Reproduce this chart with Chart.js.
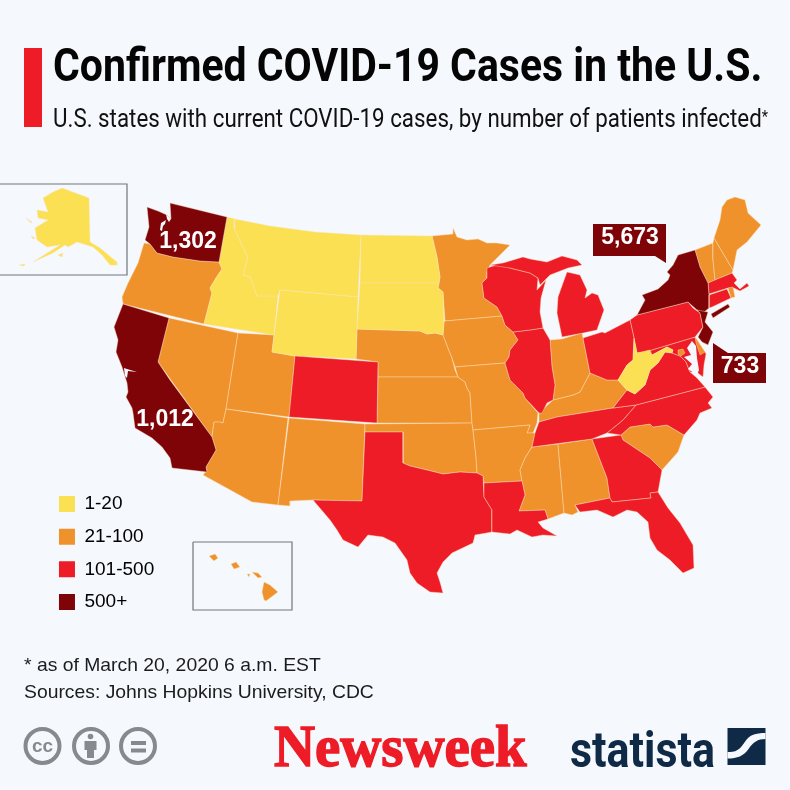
<!DOCTYPE html>
<html>
<head>
<meta charset="utf-8">
<script src="https://cdn.jsdelivr.net/npm/chart.js@4"></script>
<style>
html,body{margin:0;padding:0;background:#f5f8fc;width:790px;height:790px;overflow:hidden}
#c{position:absolute;left:0;top:0}
.t{position:absolute;white-space:nowrap;line-height:1;transform-origin:0 0}
#bar{position:absolute;left:24px;top:48px;width:18px;height:79px;background:#ed1c26}
#title{left:53px;top:42px;font:700 46px/1 Roboto,sans-serif;color:#050505}
#sub{left:53px;top:105px;font:400 26px/1 Roboto,sans-serif;color:#111}
#sub span{font-size:17px;position:relative;top:-5px}
.foot{font:400 18.5px/1 "Liberation Sans",sans-serif;color:#1c1c1c;left:24px}
#nw{left:274px;top:716px;font:700 60px/1 "Liberation Serif",serif;color:#ed1c26;-webkit-text-stroke:1.5px #ed1c26}
#st{left:570px;top:725px;font:700 50px/1 Roboto,sans-serif;color:#0f2a47}
svg{position:absolute}
</style>
</head>
<body>
<canvas id="c" width="790" height="790"></canvas>
<div id="bar"></div>
<div class="t" id="title" data-w="709">Confirmed COVID-19 Cases in the U.S.</div>
<div class="t" id="sub" data-w="715">U.S. states with current COVID-19 cases, by number of patients infected<span>*</span></div>
<div class="t foot" style="top:656px" data-w="297">* as of March 20, 2020 6 a.m. EST</div>
<div class="t foot" style="top:683px" data-w="350">Sources: Johns Hopkins University, CDC</div>
<svg style="left:20px;top:725px" width="140" height="44" viewBox="0 0 140 44" fill="none" stroke="#858a8c" stroke-width="4">
  <circle cx="22.5" cy="21" r="17"/><circle cx="71" cy="21" r="17"/><circle cx="118" cy="21" r="17"/>
  <text x="22.5" y="27" text-anchor="middle" font-family="Liberation Sans" font-weight="700" font-size="19" fill="#858a8c" stroke="none">cc</text>
  <circle cx="70.5" cy="11.5" r="2.8" fill="#858a8c" stroke="none"/>
  <path d="M64.5 16H76.5V25H74V33H67V25H64.5Z" fill="#858a8c" stroke="none"/>
  <rect x="111" y="16" width="15" height="4" fill="#858a8c" stroke="none"/><rect x="111" y="23.5" width="15" height="4" fill="#858a8c" stroke="none"/>
</svg>
<div class="t" id="nw" data-w="253">Newsweek</div>
<div class="t" id="st" data-w="145">statista</div>
<svg style="left:727px;top:728px" width="39" height="37" viewBox="0 0 38 37">
  <rect width="38" height="37" fill="#0f2a47"/>
  <path d="M0 24C10 25 14 19 18 13C22 7 28 5 38 5V11C30 11 26 14 21 21C16 28 10 30.5 0 30.5Z" fill="#f5f8fc"/>
</svg>
<script>
// Map geometry, in map units
const WA=[[170,203],[227,217],[219,262],[200,261],[173,257],[157,253],[150,244],[145,240],[149,227],[147,207],[158,211],[167,215],[171,219]];
const OR=[[144,243],[150,244],[157,253],[173,257],[200,261],[219,262],[222,269],[216,278],[210,288],[212,293],[204,324],[123,304],[122,297],[128,283],[138,263]];
const CA=[[123,304],[169,318],[158,362],[170,380],[212,437],[216,450],[206,467],[207,472],[172,468],[170,458],[162,447],[152,438],[135,428],[133,413],[132,408],[126,397],[128,392],[127,383],[122,367],[116,352],[118,340],[114,327]];
const NV=[[169,318],[238,333],[226,409],[223,423],[220,422],[214,422],[212,437],[158,362]];
const ID=[[227,217],[235,219],[234,228],[248,258],[243,275],[250,277],[257,296],[278,296],[274,335],[204,324],[212,293],[210,288],[216,278],[222,269],[219,262]];
const MT=[[235,219],[270,226],[315,232],[361,235],[358,297],[280,290],[278,296],[257,296],[250,277],[243,275],[248,258],[234,228]];
const WY=[[280,290],[358,297],[356,359],[295,356],[272,352]];
const UT=[[238,333],[274,335],[272,352],[295,356],[289,417],[226,409]];
const AZ=[[226,409],[288,418],[278,505],[252,502],[203,475],[207,470],[206,467],[216,450],[212,437],[214,422],[220,422],[223,423]];
const CO=[[295,356],[378,362],[377,423],[289,417]];
const NM=[[289,418],[365,424],[362,501],[313,500],[290,501],[290,506],[278,505]];
const ND=[[361,235],[432,236],[437,257],[440,277],[439,283],[360,283]];
const SD=[[360,283],[439,283],[438,288],[443,292],[444,322],[443,335],[435,333],[427,334],[420,331],[357,329]];
const NE=[[357,329],[420,331],[427,334],[435,333],[443,335],[448,348],[452,358],[455,370],[458,377],[378,377],[378,362],[356,359]];
const KS=[[378,377],[458,377],[465,382],[467,388],[470,393],[472,423],[377,423]];
const OK=[[365,424],[472,423],[473,430],[476,457],[477,473],[460,472],[443,474],[427,470],[410,466],[403,463],[403,432],[365,432]];
const TX=[[365,432],[403,432],[403,463],[410,466],[427,470],[443,474],[460,472],[477,473],[483,476],[484,497],[492,510],[492,532],[475,535],[473,543],[452,553],[443,562],[437,573],[440,582],[443,593],[430,592],[417,583],[410,573],[407,560],[395,543],[383,537],[368,535],[358,547],[343,540],[337,530],[330,520],[313,500],[362,501]];
const MN=[[432,236],[453,234],[453,228],[457,237],[467,240],[478,239],[487,243],[497,243],[510,245],[490,265],[487,272],[487,278],[482,283],[484,298],[497,307],[502,316],[445,321],[443,292],[438,288],[439,283],[440,277],[437,257]];
const IA=[[445,321],[502,316],[505,325],[513,332],[518,340],[510,350],[509,357],[505,363],[455,367],[452,358],[448,348],[443,335],[444,322]];
const MO=[[455,367],[505,363],[507,370],[510,380],[520,390],[523,393],[525,398],[538,413],[537,423],[533,433],[527,433],[530,425],[473,430],[472,423],[470,393],[467,388],[465,382],[458,377]];
const AR=[[473,430],[530,425],[527,433],[535,433],[532,447],[525,458],[520,470],[522,481],[484,483],[483,476],[477,473],[476,457]];
const LA=[[484,483],[522,481],[525,495],[519,511],[545,510],[548,519],[538,522],[543,528],[557,536],[543,535],[532,537],[517,530],[510,534],[492,532],[492,510],[484,497]];
const MS=[[532,447],[558,444],[564,513],[548,519],[545,510],[519,511],[525,495],[522,481],[520,470],[525,458]];
const AL=[[558,444],[592,439],[607,478],[610,498],[575,505],[578,512],[572,515],[564,513]];
const GA=[[592,439],[621,435],[623,440],[650,458],[662,470],[658,492],[650,493],[651,498],[612,502],[610,498],[607,478]];
const FL=[[575,505],[610,498],[612,502],[651,498],[650,493],[658,492],[668,508],[680,523],[693,545],[694,568],[683,573],[670,560],[657,550],[650,538],[648,522],[637,512],[627,510],[613,517],[597,510],[580,512]];
const SC=[[621,435],[630,427],[650,424],[653,427],[667,425],[684,435],[678,452],[662,470],[650,458],[623,440]];
const NC=[[636,405],[623,420],[607,433],[621,435],[630,427],[650,424],[653,427],[667,425],[684,435],[697,420],[700,413],[712,408],[708,403],[713,397],[705,387]];
const TN=[[539,422],[557,417],[613,408],[636,405],[623,420],[607,433],[592,439],[532,447],[535,433]];
const KY=[[539,413],[553,400],[573,395],[580,392],[590,373],[607,380],[618,380],[627,390],[613,408],[557,417],[539,422]];
const VA=[[613,408],[627,390],[635,394],[645,385],[650,370],[658,363],[665,352],[672,353],[680,356],[686,362],[690,372],[697,378],[705,387],[636,405]];
const WV=[[634,338],[637,353],[650,350],[652,355],[667,347],[673,350],[672,353],[665,352],[658,363],[650,370],[645,385],[635,394],[627,390],[618,380],[627,365],[633,360]];
const MD=[[645,352],[695,337],[697,340],[705,352],[706,354],[704,365],[703,377],[699,374],[697,372],[690,372],[686,362],[680,356],[672,353],[673,350],[667,347],[652,355]];
const DE=[[695,337],[697,340],[705,352],[700,355],[696,343]];
const PA=[[630,320],[637,315],[688,302],[693,308],[700,313],[703,327],[695,337],[645,352],[637,353],[634,338]];
const OH=[[583,338],[602,332],[605,333],[630,320],[634,338],[633,360],[627,365],[618,380],[607,380],[590,373]];
const IN=[[550,340],[562,339],[582,333],[590,373],[580,392],[573,395],[553,400],[555,385],[552,367]];
const IL=[[530,330],[543,328],[550,340],[552,367],[555,385],[553,400],[547,403],[542,413],[539,413],[525,398],[523,393],[520,390],[510,380],[507,370],[505,363],[509,357],[510,350],[518,340],[513,332]];
const WI=[[487,268],[503,263],[510,268],[530,273],[538,278],[537,290],[546,280],[541,298],[540,312],[543,328],[530,330],[513,332],[505,325],[502,316],[497,307],[484,298],[482,283],[487,278],[487,272]];
const MIU=[[490,265],[503,263],[523,257],[530,259],[547,262],[562,256],[577,260],[582,265],[568,268],[550,275],[540,285],[538,278],[530,273],[510,268]];
const MIL=[[567,272],[580,275],[587,290],[585,298],[592,293],[598,295],[604,310],[598,327],[597,330],[583,333],[562,337],[557,313],[558,297],[563,283]];
const NY=[[678,255],[695,250],[700,267],[708,283],[709,295],[709,308],[703,313],[697,310],[688,302],[637,315],[645,300],[642,295],[658,289],[668,280],[670,275],[667,272],[673,265]];
const LI=[[711,314],[728,304],[730,307],[713,318]];
const NJ=[[697,310],[708,312],[705,322],[713,332],[708,345],[702,342],[698,337],[703,327],[700,313]];
const VT=[[695,250],[713,243],[713,260],[715,280],[708,283],[700,267]];
const NH=[[714,238],[733,270],[732,273],[715,280],[713,260],[713,243]];
const ME=[[722,207],[727,200],[735,197],[745,200],[748,213],[761,225],[747,242],[737,250],[733,270],[714,238],[720,220]];
const MA=[[708,283],[715,280],[732,273],[737,280],[734,283],[740,289],[747,283],[749,286],[740,291],[734,288],[728,288],[709,294]];
const CT=[[709,295],[727,289],[731,298],[712,307],[709,308]];
const RI=[[728,288],[733,287],[735,297],[731,298]];
const AK=[[62,188],[89,198],[90,242],[100,248],[112,258],[117,262],[117,265],[110,265],[102,255],[93,247],[77,242],[68,247],[65,245],[53,253],[33,262],[52,250],[60,245],[47,247],[37,240],[35,228],[48,220],[38,218],[37,210],[48,212],[43,198],[53,192]];
const AK2=[[58,255],[63,253],[62,257]];
const AK3=[[26,218],[32,222],[31,223]];
const AK4=[[31,236],[35,238],[33,239]];
const AK5=[[19,265],[25,264],[24,266]];
const HI1=[[209,556],[215,554],[218,558],[214,561],[211,558]];
const HI2=[[231,564],[236,562],[240,567],[234,569]];
const HI3=[[247,574],[250,574],[249,577]];
const HI4=[[252,572],[258,573],[262,577],[258,578]];
const HI5=[[264,582],[270,585],[278,592],[266,601],[264,600],[262,592]];
const PUGET1=[[166,214],[171,219],[169,222],[167,219]];
const PUGET2=[[161,223],[166,220],[165,224],[163,226],[162,231],[160,230]];
const SFBAY=[[124,368],[127,369],[137,372],[128,371],[127,378],[125,376]];
const CHES=[[692,341],[687,348],[691,355],[684,357],[692,364],[688,369],[697,375],[699,370],[697,358],[696,346]];
const DC=[[678,350],[683,349],[685,353],[681,356],[678,354]];
const CALLOUT_NY=[[593,224],[666,224],[666,263],[655,256],[593,256]];
const CALLOUT_NJ=[[713,343],[728,353],[766,353],[766,383],[713,383]];
const FRAME_AK=[[0,184],[127,184],[127,275],[0,275]];
const FRAME_HI=[[193,542],[292,542],[292,610],[193,610],[193,542]];

// Legend categories and colours
const categories=['1-20','21-100','101-500','500+'];
const colors=['#fbe053','#f0922b','#ed1c26','#7f0408'];
const water='#f5f8fc';

// Which legend band every shape belongs to
const band0=[AK,AK2,AK3,AK4,AK5,ID,MT,WY,ND,SD];
const band1=[OR,NV,UT,AZ,NM,NE,KS,OK,MN,IA,MO,AR,MS,AL,SC,KY,IN,VT,NH,ME,HI1,HI2,HI3,HI4,HI5];
const band2=[CO,TX,LA,GA,FL,NC,TN,VA,MD,PA,OH,IL,WI,MIU,MIL,MA,CT];
const band3=[WA,CA,NY,LI,NJ];
const topYellow=[WV];
const topOrange=[DE,RI,DC];

// Case counts shown on the map
const labelTexts=['1,302','1,012','5,673','733'];
const labelX=[188,165,630,740];
const labelY=[242,420,238,367];

function pts(a,close){const p=a.map(q=>({x:q[0],y:q[1]}));if(close)p.push(p[0]);return p;}
function shape(a,color,line){return{data:pts(a,true),showLine:true,fill:'shape',backgroundColor:color,borderColor:line,borderWidth:line==='transparent'?0:0.6,pointRadius:0,pointHoverRadius:0,tension:0,clip:false};}
function frame(a){return{data:pts(a,false),showLine:true,fill:false,borderColor:'#6f7780',borderWidth:1.2,pointRadius:0,tension:0,clip:false};}

const line='rgba(252,226,190,.7)';
const layers=[];
band1.forEach(s=>layers.push(shape(s,colors[1],line)));
band0.forEach(s=>layers.push(shape(s,colors[0],line)));
band2.forEach(s=>layers.push(shape(s,colors[2],line)));
band3.forEach(s=>layers.push(shape(s,colors[3],line)));
topYellow.forEach(s=>layers.push(shape(s,colors[0],line)));
topOrange.forEach(s=>layers.push(shape(s,colors[1],line)));
[PUGET1,PUGET2,SFBAY,CHES].forEach(s=>layers.push(shape(s,water,'transparent')));
[CALLOUT_NY,CALLOUT_NJ].forEach(s=>layers.push(shape(s,colors[3],'transparent')));
layers.push(frame(FRAME_AK),frame(FRAME_HI));
layers.reverse(); // Chart.js paints the first dataset last

const placeLegend={id:'placeLegend',afterLayout(chart){const l=chart.legend;const w=l.right-l.left,h=l.bottom-l.top;l.left=45.3;l.top=480.8;l.right=l.left+w;l.bottom=l.top+h+40;}};
const caseLabels={id:'caseLabels',afterDatasetsDraw(chart){const c=chart.ctx,x=chart.scales.x,y=chart.scales.y;c.save();c.fillStyle='#fff';c.font='700 23px "Liberation Sans",sans-serif';c.textAlign='center';c.textBaseline='middle';labelTexts.forEach((t,i)=>c.fillText(t,x.getPixelForValue(labelX[i]),y.getPixelForValue(labelY[i])));c.restore();}};

new Chart(document.getElementById('c'),{
  type:'scatter',
  data:{datasets:layers},
  plugins:[placeLegend,caseLabels],
  options:{
    responsive:false,animation:false,devicePixelRatio:1,
    layout:{padding:0},
    events:[],
    scales:{x:{type:'linear',min:0,max:790,display:false},y:{type:'linear',min:0,max:790,reverse:true,display:false}},
    plugins:{
      tooltip:{enabled:false},title:{display:false},
      legend:{display:true,position:'chartArea',align:'start',
        labels:{boxWidth:16,boxHeight:16,padding:13.67,color:'#1a1a1a',font:{family:'"Liberation Sans"',size:19},
          generateLabels(){return categories.map((t,i)=>({text:t,fillStyle:colors[i],strokeStyle:colors[i],lineWidth:0,hidden:false,datasetIndex:null}));}}}
    }
  }
});

document.querySelectorAll('.t').forEach(function(e){const w=+e.dataset.w;e.style.transform='scaleX('+(w/e.offsetWidth)+')';});
</script>
</body>
</html>
